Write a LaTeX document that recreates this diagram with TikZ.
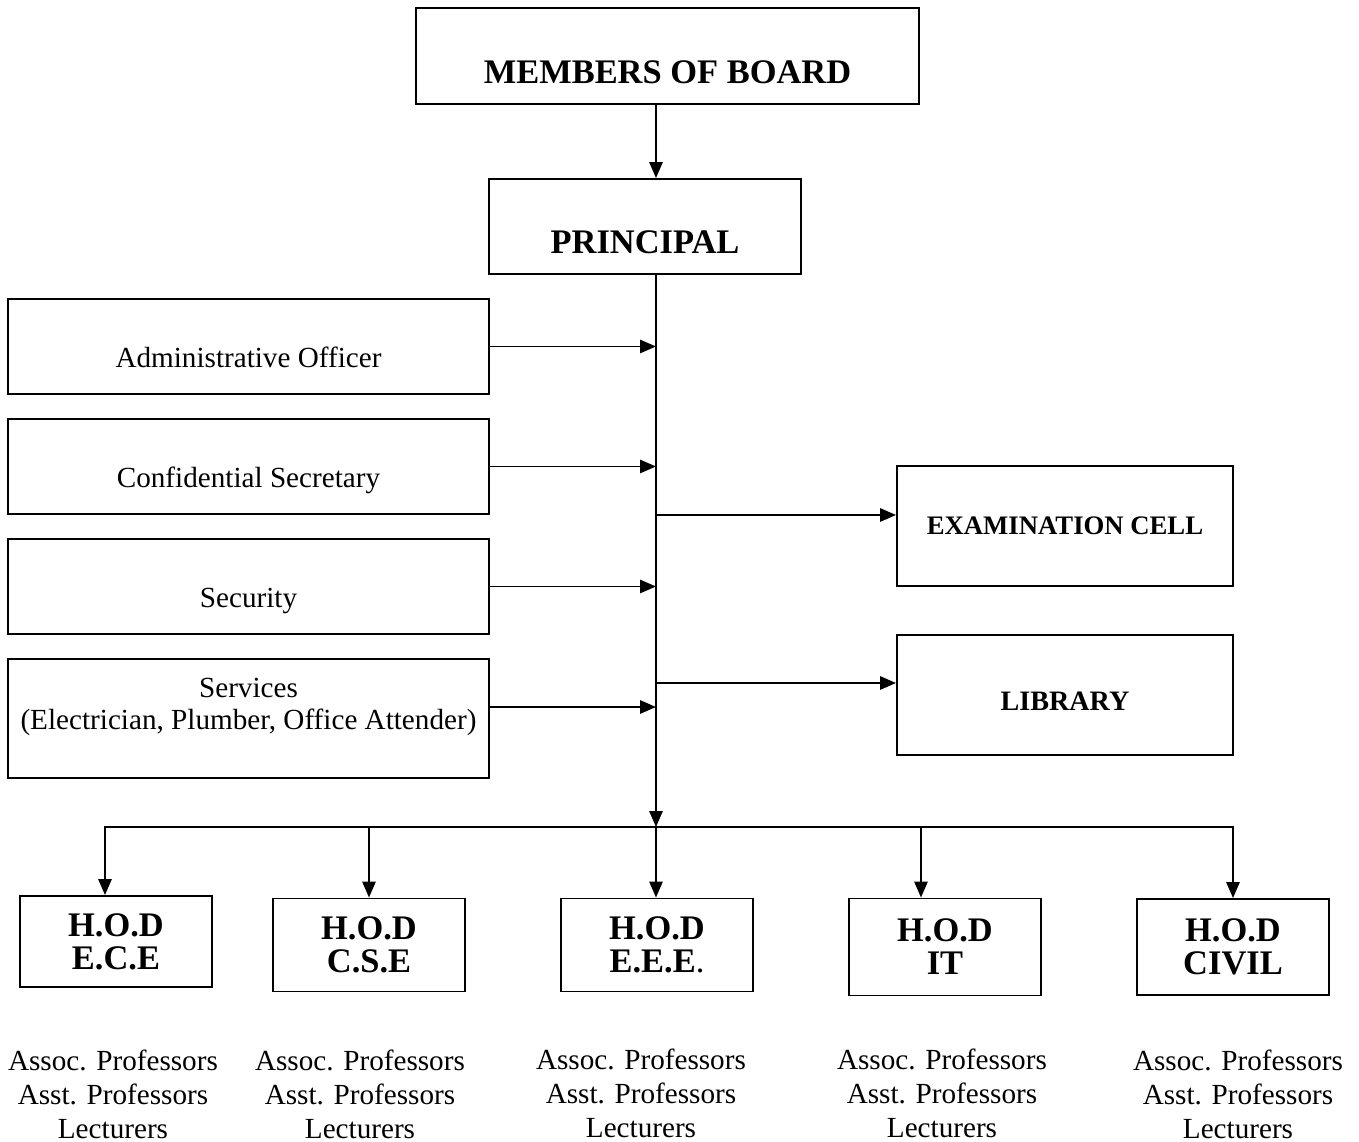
\documentclass[tikz,border=0pt]{standalone}
\usepackage{fontspec}
\setmainfont{Liberation Serif}
\usetikzlibrary{arrows.meta}
\tikzstyle{topbox} = [rectangle, draw=black, line width=1.1pt, text centered, font=\fontsize{19.6}{23}\selectfont\bfseries, text height=31pt, text depth=0pt]
\tikzstyle{staffbox} = [rectangle, draw=black, line width=1.1pt, minimum width=9.62cm, minimum height=1.9cm, text centered, font=\fontsize{16.6}{18.1}\selectfont, text height=24.4pt, text depth=0pt]
\tikzstyle{sidebox} = [rectangle, draw=black, line width=1.1pt, minimum width=6.72cm, minimum height=2.4cm, text centered, font=\fontsize{15.2}{18}\selectfont\bfseries]
\tikzstyle{hodbox} = [rectangle, draw=black, line width=1.1pt, minimum width=3.84cm, minimum height=1.86cm, align=center, font=\fontsize{19.6}{18.8}\selectfont\bfseries]
\tikzstyle{staff} = [align=center, font=\fontsize{16.6}{19.3}\selectfont]
\tikzstyle{line} = [line width=1.1pt]
\tikzstyle{arrow} = [line width=1.1pt,-{Triangle[length=9pt,width=7.5pt]}]

\begin{document}
\begin{tikzpicture}[node distance=2cm]
\useasboundingbox (-13.35,1.12) rectangle (13.83,-21.72);
\node (board) [topbox, minimum width=10.06cm, minimum height=1.92cm] {MEMBERS OF BOARD};
\node (principal) [topbox, minimum width=6.24cm, minimum height=1.9cm, below of=board, xshift=-0.45cm, yshift=-1.41cm] {PRINCIPAL};
\node (admin) [staffbox, left of=principal, xshift=-5.93cm, yshift=-2.4cm] {Administrative Officer};
\node (conf) [staffbox, below of=admin, yshift=-0.4cm] {Confidential Secretary};
\node (security) [staffbox, below of=conf, yshift=-0.4cm] {Security};
\node (services) [staffbox, below of=security, yshift=-0.64cm, minimum height=2.38cm, align=center, text height=29pt, text depth=17pt] {Services\\(Electrician, Plumber, Office Attender)};
\node (exam) [sidebox, right of=principal, xshift=6.4cm, yshift=-5.99cm] {EXAMINATION CELL\hspace{0.3cm}};
\node (library) [sidebox, below of=exam, yshift=-1.38cm, font=\fontsize{16}{18}\selectfont\bfseries, text height=17.4pt, text depth=0pt] {LIBRARY};
\coordinate (bus) at ([xshift=0.22cm, yshift=-12.01cm]principal.center);
\node (ece) [hodbox, below of=services, xshift=-2.65cm, yshift=-2.46cm, minimum height=1.82cm] {H.O.D\\E.C.E};
\node (cse) [hodbox, right of=ece, xshift=3.06cm, yshift=-0.07cm] {H.O.D\\C.S.E};
\node (eee) [hodbox, right of=cse, xshift=3.76cm] {H.O.D\\E.E.E\textmd{.}};
\node (it) [hodbox, right of=eee, xshift=3.76cm, yshift=-0.04cm, minimum height=1.94cm] {H.O.D\\IT};
\node (civil) [hodbox, right of=it, xshift=3.76cm, minimum height=1.92cm] {H.O.D\\CIVIL};
\node (ecestaff) [staff, below of=ece, xshift=-0.06cm, yshift=-1.05cm] {Assoc. Professors\\Asst. Professors\\Lecturers};
\node (csestaff) [staff, below of=cse, xshift=-0.18cm, yshift=-0.98cm] {Assoc. Professors\\Asst. Professors\\Lecturers};
\node (eeestaff) [staff, below of=eee, xshift=-0.32cm, yshift=-0.97cm] {Assoc. Professors\\Asst. Professors\\Lecturers};
\node (itstaff) [staff, below of=it, xshift=-0.06cm, yshift=-0.93cm] {Assoc. Professors\\Asst. Professors\\Lecturers};
\node (civilstaff) [staff, below of=civil, xshift=0.1cm, yshift=-0.94cm] {Assoc. Professors\\Asst. Professors\\Lecturers};
\draw [arrow] (board.south -| bus) -- (principal.north -| bus);
\draw [arrow] (principal.south -| bus) -- (bus);
\draw [arrow] (admin.east) -- (admin.east -| bus);
\draw [arrow] (conf.east) -- (conf.east -| bus);
\draw [arrow] (security.east) -- (security.east -| bus);
\draw [arrow] ([yshift=0.23cm]services.east) -- ([yshift=0.23cm]services.east -| bus);
\draw [arrow] ([yshift=0.22cm]exam.west -| bus) -- ([yshift=0.22cm]exam.west);
\draw [arrow] ([yshift=0.24cm]library.west -| bus) -- ([yshift=0.24cm]library.west);
\draw [line, line cap=rect] ([xshift=-0.22cm]ece.north |- bus) -- (civil.north |- bus);
\draw [arrow] ([xshift=-0.22cm]ece.north |- bus) -- ([xshift=-0.22cm]ece.north);
\draw [arrow] (cse.north |- bus) -- (cse.north);
\draw [arrow] (bus) -- (bus |- eee.north);
\draw [arrow] ([xshift=-0.48cm]it.north |- bus) -- ([xshift=-0.48cm]it.north);
\draw [arrow] (civil.north |- bus) -- (civil.north);
\end{tikzpicture}
\end{document}
